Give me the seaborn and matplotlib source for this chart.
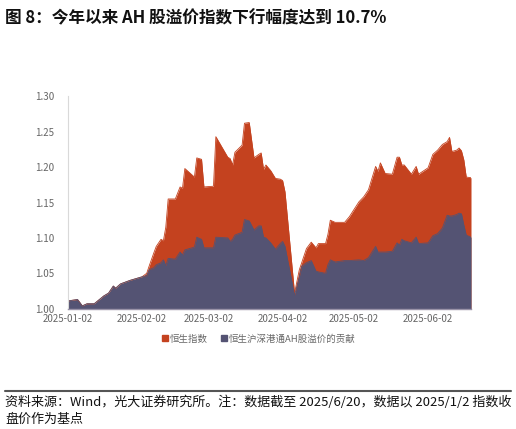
import matplotlib
matplotlib.use("Agg")
from matplotlib import pyplot as plt
import matplotlib.dates as mdates
from matplotlib.lines import Line2D
import seaborn as sns
import pandas as pd

# 数据（从图中读取，2025/1/2 = 1）
datas = [
    "2025-01-02", "2025-01-06", "2025-01-08", "2025-01-10", "2025-01-13", "2025-01-17",
    "2025-01-19", "2025-01-21", "2025-01-22", "2025-01-24", "2025-01-28", "2025-02-02",
    "2025-02-04", "2025-02-05", "2025-02-07", "2025-02-08", "2025-02-10", "2025-02-11",
    "2025-02-12", "2025-02-13", "2025-02-16", "2025-02-18", "2025-02-19", "2025-02-20",
    "2025-02-24", "2025-02-25", "2025-02-27", "2025-02-28", "2025-03-04", "2025-03-05",
    "2025-03-10", "2025-03-11", "2025-03-12", "2025-03-13", "2025-03-16", "2025-03-17",
    "2025-03-19", "2025-03-21", "2025-03-23", "2025-03-24", "2025-03-25", "2025-03-26",
    "2025-03-28", "2025-03-30", "2025-04-01", "2025-04-02", "2025-04-03", "2025-04-07",
    "2025-04-09", "2025-04-10", "2025-04-12", "2025-04-14", "2025-04-16", "2025-04-17",
    "2025-04-20", "2025-04-21", "2025-04-22", "2025-04-24", "2025-04-28", "2025-04-30",
    "2025-05-04", "2025-05-06", "2025-05-08", "2025-05-11", "2025-05-12", "2025-05-13",
    "2025-05-15", "2025-05-18", "2025-05-20", "2025-05-21", "2025-05-22", "2025-05-23",
    "2025-05-26", "2025-05-28", "2025-05-29", "2025-06-02", "2025-06-04", "2025-06-06",
    "2025-06-08", "2025-06-10", "2025-06-11", "2025-06-12", "2025-06-14", "2025-06-15",
    "2025-06-16", "2025-06-17", "2025-06-18", "2025-06-20",
]

hsi = [
    1.011, 1.013, 1.004, 1.007, 1.007, 1.018,
    1.022, 1.032, 1.029, 1.035, 1.040, 1.045,
    1.050, 1.060, 1.079, 1.088, 1.098, 1.096,
    1.115, 1.155, 1.155, 1.172, 1.170, 1.198,
    1.186, 1.213, 1.211, 1.172, 1.173, 1.243,
    1.214, 1.212, 1.203, 1.221, 1.231, 1.262,
    1.263, 1.213, 1.218, 1.220, 1.197, 1.203,
    1.195, 1.184, 1.183, 1.181, 1.165, 1.022,
    1.055, 1.065, 1.085, 1.094, 1.086, 1.092,
    1.092, 1.105, 1.125, 1.122, 1.122, 1.130,
    1.151, 1.158, 1.168, 1.201, 1.194, 1.206,
    1.191, 1.190, 1.214, 1.214, 1.203, 1.203,
    1.190, 1.201, 1.190, 1.199, 1.218, 1.224,
    1.232, 1.236, 1.242, 1.222, 1.224, 1.227,
    1.223, 1.210, 1.186, 1.185,
]

ah_contrib = [
    1.011, 1.013, 1.004, 1.007, 1.007, 1.018,
    1.022, 1.032, 1.029, 1.035, 1.040, 1.045,
    1.047, 1.055, 1.058, 1.062, 1.065, 1.069,
    1.061, 1.071, 1.070, 1.080, 1.076, 1.083,
    1.087, 1.101, 1.098, 1.086, 1.086, 1.101,
    1.100, 1.095, 1.098, 1.104, 1.108, 1.126,
    1.124, 1.111, 1.117, 1.117, 1.101, 1.100,
    1.093, 1.084, 1.092, 1.095, 1.088, 1.019,
    1.045, 1.060, 1.065, 1.068, 1.053, 1.052,
    1.050, 1.062, 1.069, 1.066, 1.068, 1.068,
    1.069, 1.068, 1.072, 1.088, 1.080, 1.080,
    1.080, 1.081, 1.093, 1.090, 1.098, 1.096,
    1.093, 1.101, 1.092, 1.093, 1.103, 1.106,
    1.114, 1.132, 1.131, 1.131, 1.133, 1.135,
    1.134, 1.118, 1.104, 1.101,
]

ticks_x = ["2025-01-02", "2025-02-02", "2025-03-02", "2025-04-02", "2025-05-02", "2025-06-02"]
ticks_y = [1.00, 1.05, 1.10, 1.15, 1.20, 1.25, 1.30]

cor_vermelho = "#C4421F"
cor_azul = "#545373"
cinza = "#666666"

sns.set_theme(style="white")
plt.rcParams["font.family"] = ["Noto Sans CJK SC", "DejaVu Sans"]

df = pd.DataFrame({"data": pd.to_datetime(datas), "hsi": hsi, "ah": ah_contrib})

fig = plt.figure(figsize=(5.16, 4.29), dpi=100)
ax = fig.add_axes([0.1318, 0.2804, 0.7810, 0.4951])

# Áreas (base em 1.00)
ax.fill_between(df["data"], 1.0, df["hsi"], color=cor_vermelho, linewidth=0)
sns.lineplot(data=df, x="data", y="hsi", ax=ax, color=cor_vermelho, linewidth=0.6)
ax.fill_between(df["data"], 1.0, df["ah"], color=cor_azul, linewidth=0)
sns.lineplot(data=df, x="data", y="ah", ax=ax, color=cor_azul, linewidth=0.6)

ax.set_xlim(pd.Timestamp("2025-01-02"), pd.Timestamp("2025-06-20"))
ax.set_ylim(1.0, 1.30)
ax.set_xticks(pd.to_datetime(ticks_x))
ax.xaxis.set_major_formatter(mdates.DateFormatter("%Y-%m-%d"))
ax.set_yticks(ticks_y)
ax.set_yticklabels([f"{v:.2f}" for v in ticks_y])
ax.set_xlabel("")
ax.set_ylabel("")
ax.tick_params(axis="x", labelsize=7, colors=cinza, length=2.5, direction="in", pad=4)
ax.tick_params(axis="x", color="#dddddd")
ax.tick_params(axis="y", labelsize=7, colors=cinza, length=0, pad=10)

for lado in ["top", "right"]:
    ax.spines[lado].set_visible(False)
ax.spines["left"].set_color("#d9d9d9")
ax.spines["left"].set_linewidth(0.8)
ax.spines["bottom"].set_color("#9a93a8")
ax.spines["bottom"].set_linewidth(1.0)
ax.spines["bottom"].set_zorder(5)

# Legenda
handles = [
    Line2D([], [], marker="s", linestyle="none", markersize=5, color=cor_vermelho),
    Line2D([], [], marker="s", linestyle="none", markersize=5, color=cor_azul),
]
fig.legend(handles, ["恒生指数", "恒生沪深港通AH股溢价的贡献"], loc="center",
           bbox_to_anchor=(0.5, 1 - 339 / 429), ncol=2, frameon=False,
           fontsize=6.8, labelcolor=cinza, handletextpad=0.05, columnspacing=1.2,
           handlelength=1.0)

# Título
fig.text(5 / 516, 1 - 18 / 429, "图 8：今年以来 AH 股溢价指数下行幅度达到 10.7%",
         fontsize=12, fontweight="bold", color="#111111", va="center", ha="left")

# Fonte
fig.add_artist(Line2D([5 / 516, 511 / 516], [1 - 391 / 429, 1 - 391 / 429],
                      color="#555555", linewidth=1.5))
fig.text(5 / 516, 1 - 402 / 429,
         "资料来源：Wind，光大证券研究所。注：数据截至 2025/6/20，数据以 2025/1/2 指数收",
         fontsize=9.4, color="#111111", va="center", ha="left")
fig.text(5 / 516, 1 - 419 / 429, "盘价作为基点",
         fontsize=9.4, color="#111111", va="center", ha="left")

plt.savefig("out.png", dpi=100)
